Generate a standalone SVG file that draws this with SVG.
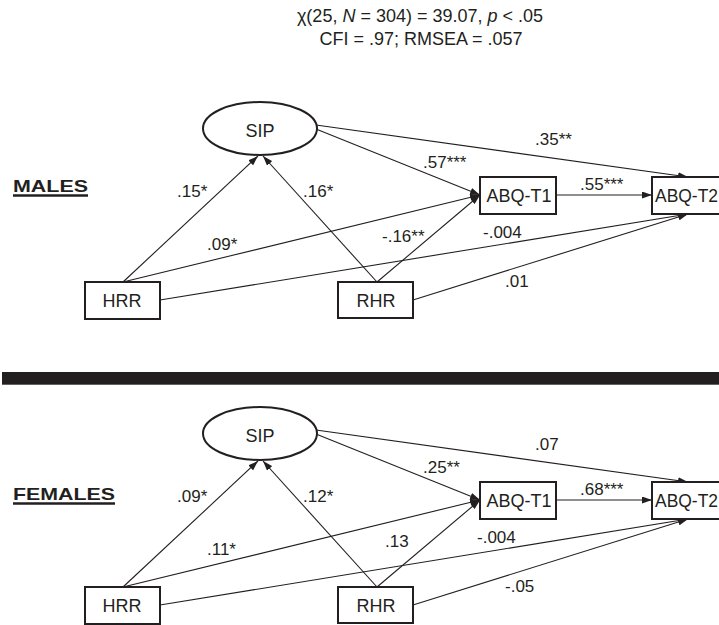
<svg xmlns="http://www.w3.org/2000/svg" width="719" height="625" viewBox="0 0 719 625">
<defs>
<marker id="ah" viewBox="0 0 10 7" refX="10" refY="3.5" markerWidth="10" markerHeight="7" markerUnits="userSpaceOnUse" orient="auto">
<path d="M0,0 L10,3.5 L0,7 z" fill="#231f20"/>
</marker>
<style>
text{font-family:"Liberation Sans",Arial,sans-serif;fill:#231f20}
.hdr{font-size:18px;text-anchor:middle}
.node{font-size:18px;text-anchor:middle}
.nodel{font-size:18px}
.lbl{font-size:17px}
.grp{font-size:16.5px;font-weight:bold}
.box{fill:#fff;stroke:#231f20;stroke-width:2}
.ell{fill:#fff;stroke:#231f20;stroke-width:2}
.conn line{stroke:#231f20;stroke-width:1.1;marker-end:url(#ah)}
.ul{stroke:#231f20;stroke-width:2.5}
</style>
</defs>
<rect width="719" height="625" fill="#fff"/>
<g id="header">
<text class="hdr" x="420" y="22">χ(25, <tspan font-style="italic">N</tspan> = 304) = 39.07, <tspan font-style="italic">p</tspan> &lt; .05</text>
<text class="hdr" x="421" y="45">CFI = .97; RMSEA = .057</text>
</g>
<rect id="divider" x="2" y="372" width="717" height="12.7" fill="#231f20"/>

<!-- MALES -->
<g id="males">
<g id="males-label">
<text class="grp" x="13" y="192" textLength="75" lengthAdjust="spacingAndGlyphs">MALES</text>
<line class="ul" x1="13" y1="195.5" x2="88" y2="195.5"/>
</g>
<g id="m-connectors" class="conn">
<line x1="123" y1="282" x2="258" y2="156"/>
<line x1="377" y1="282" x2="263" y2="156"/>
<line x1="123" y1="282" x2="480" y2="195"/>
<line x1="377" y1="282" x2="480" y2="195"/>
<line x1="316" y1="129" x2="480" y2="195"/>
<line x1="316" y1="125" x2="688" y2="177"/>
<line x1="160" y1="300" x2="688" y2="214"/>
<line x1="413" y1="300" x2="688" y2="214"/>
<line x1="556" y1="195" x2="652" y2="195"/>
</g>
<g id="m-SIP"><ellipse class="ell" cx="260" cy="128.5" rx="57" ry="26.5"/><text class="node" x="260" y="137">SIP</text></g>
<g id="m-HRR"><rect class="box" x="85" y="282" width="75" height="37"/><text class="node" x="122" y="307">HRR</text></g>
<g id="m-RHR"><rect class="box" x="338" y="282" width="75" height="36"/><text class="node" x="376" y="307">RHR</text></g>
<g id="m-ABQT1"><rect class="box" x="480" y="177" width="76" height="37"/><text class="node" x="519" y="202">ABQ-T1</text></g>
<g id="m-ABQT2"><rect class="box" x="652" y="177" width="76" height="37"/><text class="nodel" x="655" y="202" textLength="63" lengthAdjust="spacingAndGlyphs">ABQ-T2</text></g>
<g id="m-labels">
<text class="lbl" x="177" y="197">.15*</text>
<text class="lbl" x="303" y="197">.16*</text>
<text class="lbl" x="207" y="250">.09*</text>
<text class="lbl" x="382" y="242">-.16**</text>
<text class="lbl" x="423" y="168">.57***</text>
<text class="lbl" x="535" y="145">.35**</text>
<text class="lbl" x="580" y="190">.55***</text>
<text class="lbl" x="483" y="238">-.004</text>
<text class="lbl" x="505" y="287">.01</text>
</g>
</g>

<!-- FEMALES -->
<g id="females">
<g id="females-label">
<text class="grp" x="13" y="500" textLength="102" lengthAdjust="spacingAndGlyphs">FEMALES</text>
<line class="ul" x1="13" y1="503.5" x2="115" y2="503.5"/>
</g>
<g id="f-connectors" class="conn">
<line x1="123" y1="587" x2="258" y2="461"/>
<line x1="377" y1="587" x2="263" y2="461"/>
<line x1="123" y1="587" x2="480" y2="500"/>
<line x1="377" y1="587" x2="480" y2="500"/>
<line x1="316" y1="434" x2="480" y2="500"/>
<line x1="316" y1="430" x2="688" y2="482"/>
<line x1="160" y1="605" x2="688" y2="519"/>
<line x1="413" y1="605" x2="688" y2="519"/>
<line x1="556" y1="500" x2="652" y2="500"/>
</g>
<g id="f-SIP"><ellipse class="ell" cx="260" cy="433.5" rx="57" ry="26.5"/><text class="node" x="260" y="442">SIP</text></g>
<g id="f-HRR"><rect class="box" x="85" y="587" width="75" height="37"/><text class="node" x="122" y="612">HRR</text></g>
<g id="f-RHR"><rect class="box" x="338" y="587" width="75" height="36"/><text class="node" x="376" y="612">RHR</text></g>
<g id="f-ABQT1"><rect class="box" x="480" y="482" width="76" height="37"/><text class="node" x="519" y="507">ABQ-T1</text></g>
<g id="f-ABQT2"><rect class="box" x="652" y="482" width="76" height="37"/><text class="nodel" x="655" y="507" textLength="63" lengthAdjust="spacingAndGlyphs">ABQ-T2</text></g>
<g id="f-labels">
<text class="lbl" x="177" y="502">.09*</text>
<text class="lbl" x="303" y="502">.12*</text>
<text class="lbl" x="207" y="555">.11*</text>
<text class="lbl" x="385" y="547">.13</text>
<text class="lbl" x="423" y="473">.25**</text>
<text class="lbl" x="535" y="450">.07</text>
<text class="lbl" x="580" y="495">.68***</text>
<text class="lbl" x="477" y="543">-.004</text>
<text class="lbl" x="505" y="592">-.05</text>
</g>
</g>
</svg>
